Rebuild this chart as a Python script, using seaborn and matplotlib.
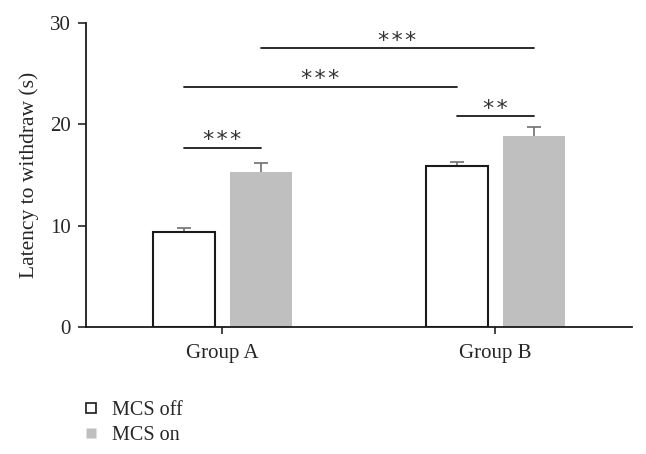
import numpy as np
import pandas as pd
import matplotlib
matplotlib.use("Agg")
import matplotlib.pyplot as plt
from matplotlib.lines import Line2D
import seaborn as sns

# data
groups = ["Group A", "Group B"]
conditions = ["MCS off", "MCS on"]
latency_off = [9.4, 15.9]
latency_on = [15.3, 18.9]
err_off = [0.35, 0.35]
err_on = [0.85, 0.85]

# significance brackets: (bar index 1, bar index 2, height, label)
sig_pairs = [(0, 1, 17.7, "*\u200a*\u200a*"), (2, 3, 20.8, "*\u200a*"),
             (0, 2, 23.7, "*\u200a*\u200a*"), (1, 3, 27.5, "*\u200a*\u200a*")]

df = pd.DataFrame({
    "group": groups * 2,
    "condition": [conditions[0]] * 2 + [conditions[1]] * 2,
    "latency": latency_off + latency_on,
    "err": err_off + err_on,
})

sns.set_style("white")
plt.rcParams["font.family"] = ["Liberation Serif", "DejaVu Serif"]

fig = plt.figure(figsize=(6.46, 4.54), dpi=100)
ax = fig.add_axes([0.133, 0.280, 0.845, 0.669])

sns.barplot(data=df, x="group", y="latency", hue="condition",
            palette=["white", "#bfbfbf"], width=0.566, gap=0.2,
            errorbar=None, legend=False, ax=ax)

# style bars and collect centres (order: groups within hue)
bars = ax.patches[:4]
centres = {}
for i, p in enumerate(bars):
    cond = i // 2
    grp = i % 2
    p.set_zorder(2)
    if cond == 0:
        p.set_edgecolor("#1a1a1a")
        p.set_linewidth(1.5)
    else:
        p.set_edgecolor("none")
    centres[grp * 2 + cond] = p.get_x() + p.get_width() / 2

# error bars drawn behind the bars so only the upper half shows
xs = [centres[k] for k in range(4)]
ys = [latency_off[0], latency_on[0], latency_off[1], latency_on[1]]
es = [err_off[0], err_on[0], err_off[1], err_on[1]]
ax.errorbar(xs, ys, yerr=es, fmt="none", ecolor="#707070",
            elinewidth=1.2, capsize=5, capthick=1.2, zorder=1)

# significance lines
for a, b, h, lab in sig_pairs:
    ax.plot([xs[a], xs[b]], [h, h], color="#1a1a1a", lw=1.3)
    ax.text((xs[a] + xs[b]) / 2, h + 0.15, lab, ha="center", va="baseline",
            fontsize=16, color="#333333", family=["DejaVu Sans"])

ax.set_ylim(0, 30)
ax.set_xlim(-0.5, 1.5)
ax.set_yticks([0, 10, 20, 30])
ax.set_ylabel("Latency to withdraw (s)", fontsize=15.5, labelpad=8)
ax.set_xlabel("")
ax.tick_params(axis="y", labelsize=15, length=6, width=1.2, direction="out", left=True, pad=5)
ax.tick_params(axis="x", labelsize=15, length=5, width=1.2, direction="out", bottom=True, pad=7)
sns.despine(ax=ax)
for s in ["left", "bottom"]:
    ax.spines[s].set_color("#1a1a1a")
    ax.spines[s].set_linewidth(1.3)

handles = [
    Line2D([], [], marker="s", ls="none", markersize=7, markerfacecolor="white",
           markeredgecolor="#1a1a1a", markeredgewidth=1.2),
    Line2D([], [], marker="s", ls="none", markersize=7, markerfacecolor="#bfbfbf",
           markeredgecolor="none"),
]
fig.legend(handles, conditions, loc="upper left", bbox_to_anchor=(0.113, 0.135),
           frameon=False, fontsize=14.5, handletextpad=0.55, labelspacing=0.3,
           borderaxespad=0, handlelength=1.0)

fig.savefig("out.png", dpi=100)
